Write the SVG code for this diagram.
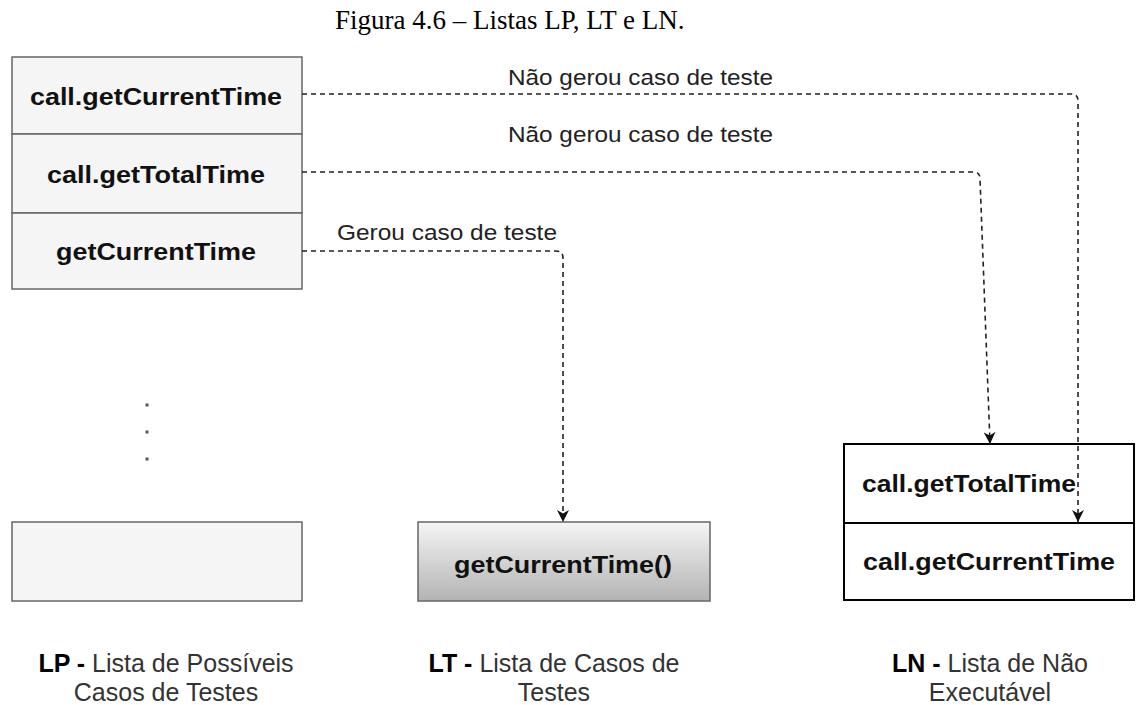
<svg xmlns="http://www.w3.org/2000/svg" width="1136" height="705" viewBox="0 0 1136 705">
<style>
.title{font-family:"Liberation Serif","Times New Roman",serif;font-size:27px;fill:#000}
.nt{font-family:"Liberation Sans",Arial,sans-serif;font-size:23px;font-weight:bold;fill:#111}
.el{font-family:"Liberation Sans",Arial,sans-serif;font-size:22px;fill:#222}
.lb{font-family:"Liberation Sans",Arial,sans-serif;font-size:25px;fill:#333;text-anchor:middle}
.lb tspan.b{font-weight:bold;fill:#000}
.lp{fill:#f5f5f5;stroke:#666;stroke-width:1.5}
.ln{fill:#fff;stroke:#000;stroke-width:2}
.conn{fill:none;stroke:#222;stroke-width:1.6;stroke-dasharray:5 4}
</style>
<defs>
<linearGradient id="gr" x1="0" y1="0" x2="0" y2="1">
<stop offset="0" stop-color="#f5f5f5"/>
<stop offset="1" stop-color="#b3b3b3"/>
</linearGradient>
<marker id="ah" viewBox="0 0 10 10" refX="10" refY="5" markerWidth="12" markerHeight="12" markerUnits="userSpaceOnUse" orient="auto">
<path d="M0,0 L10,5 L0,10 L3,5 Z" fill="#111"/>
</marker>
</defs>
<text class="title" x="335" y="29">Figura 4.6 – Listas LP, LT e LN.</text>

<g id="lp-list">
<rect class="lp" x="12" y="57" width="290" height="77"/>
<rect class="lp" x="12" y="134" width="290" height="79"/>
<rect class="lp" x="12" y="213" width="290" height="76"/>
<text class="nt" x="30" y="105" textLength="252" lengthAdjust="spacingAndGlyphs">call.getCurrentTime</text>
<text class="nt" x="47" y="183" textLength="218" lengthAdjust="spacingAndGlyphs">call.getTotalTime</text>
<text class="nt" x="56" y="260" textLength="200" lengthAdjust="spacingAndGlyphs">getCurrentTime</text>
</g>

<g id="lp-dots" fill="#555">
<rect x="145.5" y="403.5" width="3" height="3"/>
<rect x="145.5" y="430.5" width="3" height="3"/>
<rect x="145.5" y="457.5" width="3" height="3"/>
</g>

<g id="lp-last">
<rect class="lp" x="12" y="522" width="290" height="79"/>
</g>

<g id="lt">
<rect x="418" y="522" width="292" height="79" fill="url(#gr)" stroke="#666" stroke-width="1.5"/>
<text class="nt" x="454" y="573" textLength="218" lengthAdjust="spacingAndGlyphs">getCurrentTime()</text>
</g>

<g id="ln">
<rect class="ln" x="844" y="444" width="290" height="79"/>
<rect class="ln" x="844" y="523" width="290" height="77"/>
<text class="nt" x="862" y="492" textLength="214" lengthAdjust="spacingAndGlyphs">call.getTotalTime</text>
<text class="nt" x="863" y="570" textLength="252" lengthAdjust="spacingAndGlyphs">call.getCurrentTime</text>
</g>

<g id="connectors">
<path class="conn" d="M302,94 H1071 Q1078,94 1078,101 V522" marker-end="url(#ah)"/>
<path class="conn" d="M302,172 H974 Q980,172 980,179 L990,444" marker-end="url(#ah)"/>
<path class="conn" d="M302,251 H556 Q563,251 563,258 V522" marker-end="url(#ah)"/>
<text class="el" x="508" y="85" textLength="265" lengthAdjust="spacingAndGlyphs">Não gerou caso de teste</text>
<text class="el" x="508" y="142" textLength="265" lengthAdjust="spacingAndGlyphs">Não gerou caso de teste</text>
<text class="el" x="337" y="240" textLength="220" lengthAdjust="spacingAndGlyphs">Gerou caso de teste</text>
</g>

<g id="labels">
<text class="lb" x="166" y="672"><tspan class="b">LP -</tspan> Lista de Possíveis</text>
<text class="lb" x="166" y="701">Casos de Testes</text>
<text class="lb" x="554" y="672"><tspan class="b">LT -</tspan> Lista de Casos de</text>
<text class="lb" x="554" y="701">Testes</text>
<text class="lb" x="990" y="672"><tspan class="b">LN -</tspan> Lista de Não</text>
<text class="lb" x="990" y="701">Executável</text>
</g>
</svg>
